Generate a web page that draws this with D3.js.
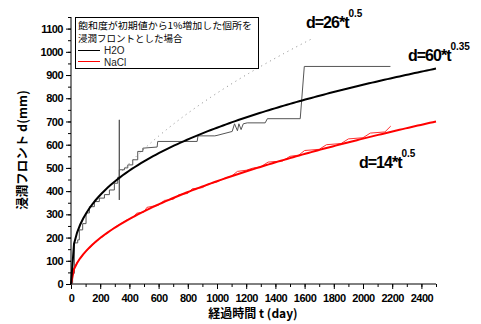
<!DOCTYPE html>
<html><head><meta charset="utf-8">
<script src="https://cdn.jsdelivr.net/npm/d3@7"></script>
<style>
body{margin:0;background:#fff;}
svg{display:block;}
</style></head>
<body>
<script>
// ---- data ----
const xTicks = [0,200,400,600,800,1000,1200,1400,1600,1800,2000,2200,2400];
const yTicks = [0,100,200,300,400,500,600,700,800,900,1000,1100];
// measured H2O front (t day, d mm)
const h2oT = [0,11,11,23,23,46,46,57,57,80,80,103,103,126,126,160,160,194,194,229,229,263,263,297,297,320,320,331,331,331,331,366,366,389,389,423,423,457,457,492,492,590,594,864,870,985,1000,1104,1120,1140,1150,1165,1180,1207,1330,1345,1570,1598,2188];
const h2oD = [0,0,46,46,177,177,190,190,233,233,260,260,306,306,333,333,355,355,370,370,385,385,405,405,434,434,460,460,707,362,492,492,500,500,513,513,535,535,571,571,585,590,614,614,638,638,640,657,690,660,690,665,690,694,694,712,712,937,937];
// measured NaCl front
const naclT = [0,15,30,50,70,100,120,150,180,200,230,260,300,330,380,420,450,500,520,600,640,700,740,800,830,900,940,1000,1050,1100,1140,1200,1250,1300,1350,1450,1500,1560,1600,1700,1750,1850,1900,2000,2050,2150,2190];
const naclD = [0,60,80,100,115,140,150,170,185,200,210,225,245,255,275,285,305,310,330,340,360,365,385,390,410,415,430,440,455,465,485,490,500,505,525,530,550,555,575,580,600,605,625,630,650,655,680];
// fitted curves d = a * t^b
const fitNames = ["H2O fit","NaCl fit","upper"];
const fitA = [60,14,26];
const fitB = [0.35,0.5,0.5];
const fitStart = [0,0,350];
const fitEnd = [2500,2500,1650];
const legendTitle = ["飽和度が初期値から1%増加した個所を","浸潤フロントとした場合"];
const legendItems = ["H2O","NaCl"];

// ---- chart ----
const W=481,H=324;
const svg=d3.select("body").append("svg").attr("width",W).attr("height",H);
const x=d3.scaleLinear().domain([0,2500]).range([71,436]);
const y=d3.scaleLinear().domain([0,1150]).range([284,17]);
const font="'Liberation Sans', Arial, sans-serif";

// axes
const xMinor=d3.range(0,2501,100);
const yMinor=d3.range(0,1151,50);
const gx=svg.append("g").attr("transform","translate(0,284)");
gx.call(d3.axisBottom(x).tickValues(xMinor).tickSize(3).tickFormat(""));
gx.call(g=>g.selectAll(".domain").remove());
const gx2=svg.append("g").attr("transform","translate(0,284)")
 .call(d3.axisBottom(x).tickValues(xTicks).tickSize(5).tickSizeOuter(0).tickFormat(d3.format("d")));
gx2.select(".domain").attr("d","M71,0H436");
gx2.selectAll("text").attr("font-family",font).attr("font-weight","bold").attr("font-size",11).attr("letter-spacing","-0.5").attr("dy","0.9em");
const gy=svg.append("g").attr("transform","translate(71,0)");
gy.call(d3.axisLeft(y).tickValues(yMinor).tickSize(3).tickFormat(""));
gy.call(g=>g.selectAll(".domain").remove());
const gy2=svg.append("g").attr("transform","translate(71,0)")
 .call(d3.axisLeft(y).tickValues(yTicks).tickSize(5).tickSizeOuter(0).tickFormat(d3.format("d")));
gy2.select(".domain").attr("d","M0,17V284");
gy2.selectAll("text").attr("font-family",font).attr("font-weight","bold").attr("font-size",11).attr("letter-spacing","-0.5");
svg.selectAll(".tick line").attr("stroke","#000");

// axis titles
svg.append("text").attr("x",253).attr("y",318).attr("text-anchor","middle")
 .attr("font-family","'Noto Sans CJK JP',sans-serif").attr("font-weight","bold").attr("font-size",12)
 .text("経過時間 t (day)");
svg.append("text").attr("transform","translate(27,150) rotate(-90)").attr("text-anchor","middle")
 .attr("font-family","'Noto Sans CJK JP',sans-serif").attr("font-weight","bold").attr("font-size",12.5)
 .text("浸潤フロント d(mm)");

const line=d3.line().x(d=>x(d[0])).y(d=>y(d[1]));
function fitPts(i){const n=120;const pts=[];for(let k=0;k<=n;k++){const t=fitStart[i]+(fitEnd[i]-fitStart[i])*k/n;pts.push([t,fitA[i]*Math.pow(t,fitB[i])]);}return pts;}
// dotted upper curve
svg.append("path").attr("d",line(fitPts(2))).attr("fill","none").attr("stroke","#888").attr("stroke-width",1).attr("stroke-dasharray","1,4");

// measured
svg.append("path").attr("d",line(naclT.map((t,i)=>[t,naclD[i]]))).attr("fill","none").attr("stroke","#ff3030").attr("stroke-width",1);
svg.append("path").attr("d",line(h2oT.map((t,i)=>[t,h2oD[i]]))).attr("fill","none").attr("stroke","#555").attr("stroke-width",1);

// fits
svg.append("path").attr("d",line(fitPts(1))).attr("fill","none").attr("stroke","#ff0000").attr("stroke-width",2);
svg.append("path").attr("d",line(fitPts(0))).attr("fill","none").attr("stroke","#000").attr("stroke-width",2);

// equation labels
function eq(xp,yp,main,sup){
 const t=svg.append("text").attr("x",xp).attr("y",yp).attr("font-family",font).attr("font-weight","bold").attr("font-size",16).attr("letter-spacing","-1");
 t.append("tspan").text(main);
 t.append("tspan").attr("dy",-11).attr("font-size",10).attr("letter-spacing","0").text(sup);
}
eq(306,28,"d=26*t","0.5");
eq(408,61,"d=60*t","0.35");
eq(359,168,"d=14*t","0.5");

// legend
const lg=svg.append("g");
lg.append("rect").attr("x",75.5).attr("y",17.5).attr("width",183).attr("height",51).attr("fill","#fff").attr("stroke","#000").attr("stroke-width",1);
legendTitle.forEach((s,i)=>{
 const tx=lg.append("text").attr("x",78).attr("y",29+i*13).attr("font-family","'Noto Sans CJK JP',sans-serif").attr("font-size",9.5).text(s);
 if(i===0) tx.attr("textLength",174).attr("lengthAdjust","spacingAndGlyphs");
});
const lc=["#000","#ff0000"];
legendItems.forEach((s,i)=>{
 lg.append("line").attr("x1",78).attr("x2",100).attr("y1",50.5+i*11).attr("y2",50.5+i*11).attr("stroke",lc[i]).attr("stroke-width",1);
 lg.append("text").attr("x",104).attr("y",54+i*11.5).attr("font-family",font).attr("font-size",10).attr("fill","#222").text(s);
});
</script>
</body></html>
